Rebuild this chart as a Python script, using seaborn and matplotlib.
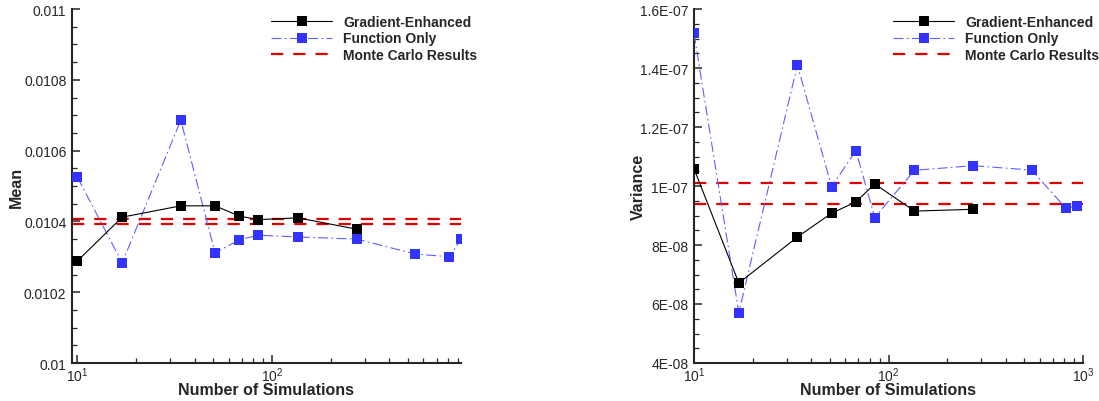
import numpy as np
import pandas as pd
import matplotlib
matplotlib.use("Agg")
import matplotlib.pyplot as plt
import seaborn as sns
from matplotlib.ticker import LogLocator, MultipleLocator, FuncFormatter, NullFormatter

# Sample counts
n_grad = [10, 17, 34, 51, 68, 85, 136, 272]
n_func = [10, 17, 34, 51, 68, 85, 136, 272, 544, 816, 935]

# Mean estimates
mean_grad = [0.010288, 0.010412, 0.010444, 0.010444, 0.010415, 0.010405, 0.010410, 0.010378]
mean_func = [0.010525, 0.010283, 0.010686, 0.010311, 0.010348, 0.010361, 0.010356, 0.010350,
             0.010308, 0.010300, 0.010350]
mean_mc = [0.010407, 0.010393]

# Variance estimates
var_grad = [1.0587e-7, 6.71e-8, 8.27e-8, 9.08e-8, 9.46e-8, 1.0068e-7, 9.15e-8, 9.21e-8]
var_func = [1.5176e-7, 5.705e-8, 1.410e-7, 9.976e-8, 1.1197e-7, 8.93e-8, 1.0532e-7, 1.0689e-7,
            1.054e-7, 9.25e-8, 9.32e-8]
var_mc = [1.0112e-7, 9.39e-8]

labels = ["Gradient-Enhanced", "Function Only", "Monte Carlo Results"]

sns.set_style("ticks")
plt.rcParams["font.family"] = ["Liberation Sans", "DejaVu Sans"]
plt.rcParams["mathtext.fontset"] = "custom"
plt.rcParams["mathtext.rm"] = "Liberation Sans"
plt.rcParams["mathtext.it"] = "Liberation Sans"

W, H = 1099, 402
fig = plt.figure(figsize=(W / 100, H / 100), dpi=100)
ax1 = fig.add_axes([72 / W, 1 - 364 / H, 389 / W, 354 / H])
ax2 = fig.add_axes([694 / W, 1 - 364 / H, 389 / W, 354 / H])

BLUE_M = "#3333ff"
BLUE_L = "#5f5fff"
RED = "#e00000"


def draw(ax, y_grad, y_func, y_mc, ylabel):
    df_g = pd.DataFrame({"n": n_grad, "v": y_grad})
    df_f = pd.DataFrame({"n": n_func, "v": y_func})
    sns.lineplot(data=df_f, x="n", y="v", ax=ax, color=BLUE_L, lw=0.8,
                 linestyle=(0, (9, 3, 1.5, 3)), marker="s", markersize=7.5,
                 markerfacecolor=BLUE_M, markeredgecolor=BLUE_M, markeredgewidth=0,
                 label=labels[1], zorder=3)
    sns.lineplot(data=df_g, x="n", y="v", ax=ax, color="black", lw=0.8,
                 marker="s", markersize=7.5, markerfacecolor="black",
                 markeredgecolor="black", markeredgewidth=0,
                 label=labels[0], zorder=4)
    for i, v in enumerate(y_mc):
        ax.axhline(v, color=RED, lw=1.6, dashes=(5.5, 4.5), zorder=2,
                   label=labels[2] if i == 0 else None)

    ax.set_xscale("log")
    for s in ["top", "right"]:
        ax.spines[s].set_visible(False)
    for s in ["left", "bottom"]:
        ax.spines[s].set_linewidth(1.5)
    ax.tick_params(axis="both", which="major", direction="in", length=5.5, width=1.1,
                   labelsize=10, pad=4)
    ax.tick_params(axis="both", which="minor", direction="in", length=3.6, width=0.9)
    ax.tick_params(axis="x", which="major", pad=2)
    ax.xaxis.set_major_locator(LogLocator(base=10, numticks=10))
    ax.xaxis.set_minor_locator(LogLocator(base=10, subs=np.arange(2, 10), numticks=20))
    ax.xaxis.set_minor_formatter(NullFormatter())
    ax.set_xlabel("Number of Simulations", fontsize=11.5, fontweight="bold", labelpad=-1.5)
    ax.set_ylabel(ylabel, fontsize=11.5, fontweight="bold")
    ax.yaxis.set_label_coords(-0.123, 0.5)

    handles, labs = ax.get_legend_handles_labels()
    order = [labs.index(l) for l in labels]
    ax.legend([handles[i] for i in order], [labs[i] for i in order],
              loc="upper left", bbox_to_anchor=(0.512, 0.984), frameon=False,
              borderpad=0, handlelength=4.4, handletextpad=0.8,
              labelspacing=0.2, borderaxespad=0, numpoints=1,
              prop={"size": 10, "weight": "bold"})


def mean_fmt(v, p):
    return f"{v:.5f}".rstrip("0")


def var_fmt(v, p):
    big = v >= 1e-7 - 1e-12
    m = round(v / (1e-7 if big else 1e-8), 1)
    return f"{m:g}E{'-07' if big else '-08'}"


draw(ax1, mean_grad, mean_func, mean_mc, "Mean")
ax1.set_xlim(9.39, 935)
ax1.set_ylim(0.01, 0.011)
ax1.yaxis.set_major_locator(MultipleLocator(0.0002))
ax1.yaxis.set_minor_locator(MultipleLocator(0.00005))
ax1.yaxis.set_major_formatter(FuncFormatter(mean_fmt))

draw(ax2, var_grad, var_func, var_mc, "Variance")
ax2.set_xlim(10, 1000)
ax2.set_ylim(4e-8, 1.6e-7)
ax2.yaxis.set_major_locator(MultipleLocator(2e-8))
ax2.yaxis.set_minor_locator(MultipleLocator(5e-9))
ax2.yaxis.set_major_formatter(FuncFormatter(var_fmt))

fig.savefig("out.png", dpi=100)
